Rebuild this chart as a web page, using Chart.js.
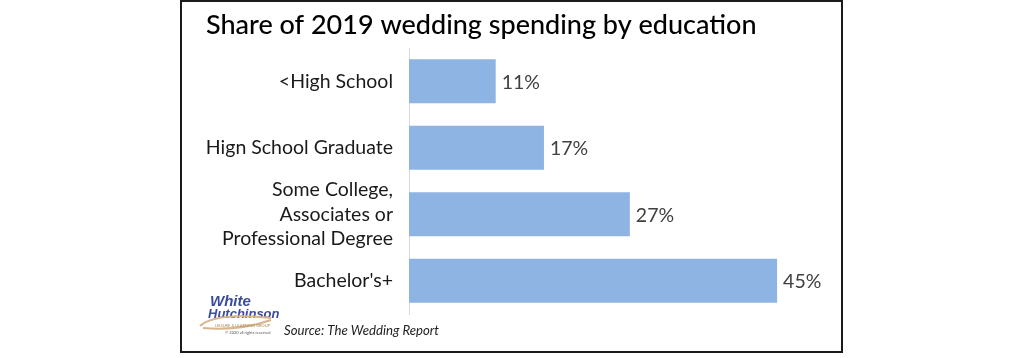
<!DOCTYPE html>
<html><head><meta charset="utf-8">
<script src="https://cdn.jsdelivr.net/npm/chart.js@4"></script>
<style>html,body{margin:0;padding:0;background:#fff}#wrap{width:1024px;height:358px;position:relative}</style>
</head><body><div id="wrap"><canvas id="c" width="1024" height="358"></canvas></div>
<script>
const categories = ['<High School', 'Hign School Graduate', ['Some College,', 'Associates or', 'Professional Degree'], "Bachelor's+"];
const shares = [10.6, 16.5, 27, 45];
const valueLabels = ['11%', '17%', '27%', '45%'];
const titleText = 'Share of 2019 wedding spending by education';
const sourceText = 'Source: The Wedding Report';
const logoLines = ['White', 'Hutchinson'];
const logoSmall = ['LEISURE & LEARNING GROUP', '\u00A9 2020 all rights reserved'];

const FONT = 'Lato, "Open Sans", sans-serif';

const decor = {
  id: 'decor',
  afterDraw(chart) {
    const ctx = chart.ctx;
    ctx.save();
    // frame
    ctx.strokeStyle = '#1a1a1a';
    ctx.lineWidth = 2;
    ctx.strokeRect(181, 1, 661, 351);
    // value labels
    const meta = chart.getDatasetMeta(0);
    ctx.fillStyle = '#404040';
    ctx.font = '19.5px ' + FONT;
    ctx.textAlign = 'left';
    ctx.textBaseline = 'middle';
    meta.data.forEach((bar, i) => {
      ctx.fillText(valueLabels[i], bar.x + 6, bar.y + 1);
    });
    // source
    ctx.fillStyle = '#222';
    ctx.font = 'italic 13.2px ' + FONT;
    ctx.textBaseline = 'alphabetic';
    ctx.fillText(sourceText, 284, 335);
    // logo
    ctx.fillStyle = '#3b4c9b';
    ctx.font = 'italic bold 15px "Liberation Sans Narrow", "Liberation Sans", sans-serif';
    ctx.fillText(logoLines[0], 210, 306);
    ctx.font = 'italic bold 13px "Liberation Sans Narrow", "Liberation Sans", sans-serif';
    ctx.fillText(logoLines[1], 208, 318);
    ctx.strokeStyle = '#d8b58a';
    ctx.lineWidth = 2;
    ctx.beginPath();
    ctx.moveTo(200, 326);
    ctx.quadraticCurveTo(215, 312, 271, 318);
    ctx.stroke();
    ctx.beginPath();
    ctx.moveTo(203, 328);
    ctx.quadraticCurveTo(240, 331, 271, 320);
    ctx.stroke();
    ctx.fillStyle = '#b08a5a';
    ctx.font = '4px ' + FONT;
    ctx.fillText(logoSmall[0], 215, 327);
    ctx.fillStyle = '#555';
    ctx.fillText(logoSmall[1], 225, 334);
    ctx.restore();
  }
};

new Chart(document.getElementById('c'), {
  type: 'bar',
  data: {
    labels: categories,
    datasets: [{
      data: shares,
      backgroundColor: '#8eb4e3',
      borderWidth: 0,
      barPercentage: 0.66,
      categoryPercentage: 1
    }]
  },
  options: {
    indexAxis: 'y',
    responsive: false,
    animation: false,
    events: [],
    layout: { padding: { left: 206, right: 206, top: 0, bottom: 44 } },
    plugins: {
      legend: { display: false },
      tooltip: { enabled: false },
      title: {
        display: true,
        text: titleText,
        align: 'start',
        color: '#000',
        font: { family: FONT, size: 27, weight: 500, lineHeight: 1.2 },
        padding: { top: 9, bottom: 6.6 }
      }
    },
    scales: {
      x: { display: false, min: 0, max: 50 },
      y: {
        grid: { display: false, drawTicks: false },
        border: { display: true, color: '#d9d9d9', width: 1 },
        ticks: {
          autoSkip: false,
          color: '#1a1a1a',
          padding: 16,
          font: { family: FONT, size: 19.5, lineHeight: 1.26 }
        },
        afterFit(s) { s.width = 203; }
      }
    }
  },
  plugins: [decor]
});
</script>
</body></html>
